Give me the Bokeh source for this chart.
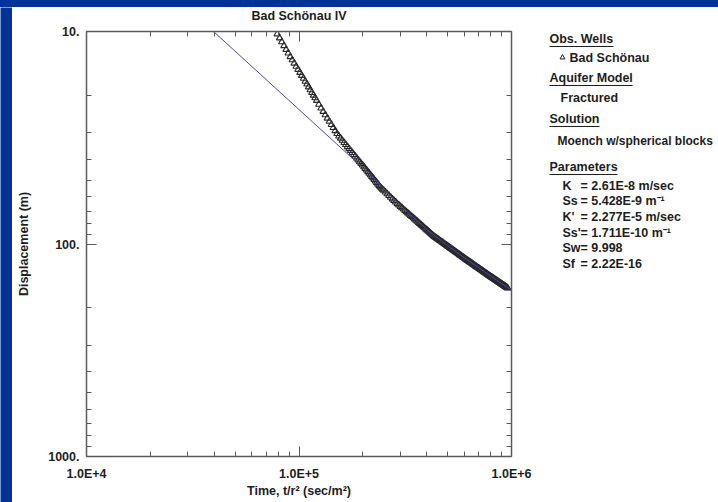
from bokeh.plotting import figure
from bokeh.models import Range1d, LogAxis, FixedTicker
from bokeh.layouts import row, column
from bokeh.embed import file_html
from bokeh.resources import INLINE
from bokeh.core.properties import value

# ---------------- data ----------------
title_text = "Bad Schönau IV"
x_label = "Time, t/r² (sec/m²)"
y_label = "Displacement (m)"

x_ticks = [1e4, 1e5, 1e6]
x_tick_labels = ["1.0E+4", "1.0E+5", "1.0E+6"]
x_minor = [2e4, 3e4, 4e4, 5e4, 6e4, 7e4, 8e4, 9e4,
           2e5, 3e5, 4e5, 5e5, 6e5, 7e5, 8e5, 9e5]
y_ticks = [10, 100, 1000]
y_tick_labels = ["10.", "100.", "1000."]
y_minor = [20, 30, 40, 50, 60, 70, 80, 90,
           200, 300, 400, 500, 600, 700, 800, 900]

# observed data (time in thousands of sec/m^2, displacement in m)
early_time_k = [79, 81, 83, 85, 87, 89, 91, 93, 95, 97, 99, 101, 103, 105, 107, 109,
                111, 113, 115, 117, 119, 121,
                124, 127, 130, 133, 136, 139, 142, 145, 148, 151, 154, 157, 160, 163,
                166, 169, 172, 175, 178, 181, 184, 187, 190, 193, 196, 199, 202, 205,
                208, 211, 214, 217, 220, 223, 226, 229, 232, 235, 238, 241, 244, 247,
                250, 255]
early_disp = [10.27, 10.73, 11.19, 11.67, 12.15, 12.64, 13.14, 13.61, 14.10, 14.60,
              15.09, 15.60, 16.11, 16.63, 17.16, 17.69, 18.24, 18.81, 19.38, 19.95,
              20.53, 21.13,
              22.02, 22.93, 23.80, 24.69, 25.59, 26.50, 27.42, 28.35, 29.30, 30.26,
              31.05, 31.80, 32.55, 33.32, 34.08, 34.85, 35.61, 36.38, 37.16, 37.94,
              38.69, 39.46, 40.24, 41.00, 41.78, 42.55, 43.33, 44.11, 44.89, 45.70,
              46.50, 47.32, 48.12, 48.93, 49.75, 50.57, 51.40, 52.23, 53.06, 53.88,
              54.62, 55.28, 55.93, 57.01]
late_time_k = [260, 265, 270, 275, 280, 285, 290, 295, 300, 305, 310, 315, 320, 325,
               330, 335, 340, 345, 350, 355, 360, 365, 370, 375, 380, 385, 390, 395,
               400, 405, 410, 415, 420, 425, 430, 435, 440, 445, 450, 455, 460, 465,
               470, 475, 480, 485, 490, 495, 500, 505, 510, 515, 520, 525, 530, 535,
               540, 545, 550, 555, 560, 565, 570, 575, 580, 585, 590, 595, 600, 605,
               610, 615, 620, 625, 630, 635, 640, 645, 650, 655, 660, 665, 670, 675,
               680, 685, 690, 695, 700, 705, 710, 715, 720, 725, 730, 735, 740, 745,
               750, 755, 760, 765, 770, 775, 780, 785, 790, 795, 800, 805, 810, 815,
               820, 825, 830, 835, 840, 845, 850, 855, 860, 865, 870, 875, 880, 885,
               890, 895, 900, 905, 910, 915, 920, 925, 930, 935, 940, 945, 950, 955, 960]
late_disp = [58.10, 59.20, 60.29, 61.38, 62.46, 63.54, 64.62, 65.61, 66.60, 67.58,
             68.56, 69.53, 70.50, 71.47, 72.44, 73.41, 74.37, 75.34, 76.30, 77.27,
             78.24, 79.21, 80.17, 81.14, 82.10, 83.06, 84.01, 84.97, 85.92, 86.88,
             87.84, 88.79, 89.74, 90.71, 91.68, 92.45, 93.22, 93.99, 94.75, 95.50,
             96.25, 97.01, 97.77, 98.51, 99.25, 100.00, 100.74, 101.48, 102.21, 102.95,
             103.68, 104.42, 105.15, 105.87, 106.59, 107.32, 108.05, 108.76, 109.46, 110.17,
             110.88, 111.60, 112.32, 113.03, 113.73, 114.44, 115.15, 115.85, 116.54, 117.24,
             117.94, 118.64, 119.34, 119.98, 120.61, 121.28, 121.95, 122.62, 123.28, 123.95,
             124.62, 125.27, 125.92, 126.59, 127.26, 127.91, 128.56, 129.22, 129.87, 130.52,
             131.16, 131.80, 132.43, 133.08, 133.72, 134.37, 135.02, 135.65, 136.27, 136.92,
             137.56, 138.25, 138.93, 139.53, 140.12, 140.72, 141.32, 141.93, 142.53, 143.14,
             143.75, 144.35, 144.95, 145.55, 146.15, 146.76, 147.37, 147.95, 148.53, 149.13,
             149.73, 150.32, 150.90, 151.50, 152.09, 152.67, 153.25, 153.84, 154.42, 155.01,
             155.60, 156.18, 156.75, 157.33, 157.91, 158.50, 159.08, 159.65, 160.22, 160.80,
             161.37]
obs_time = [t * 1000 for t in early_time_k + late_time_k]
obs_disp = early_disp + late_disp

# fitted Moench curve
fit_time = [39600, 60000, 100000, 150000, 200000, 230000, 270000, 320000,
            400000, 500000, 600000, 700000, 800000, 900000, 980000]
fit_disp = [10.0, 14.61, 23.30, 33.74, 43.86, 50.0, 59.6, 70.0,
            85.5, 101.8, 116.0, 129.3, 141.8, 153.6, 162.6]

# side panel texts
headers = ["Obs. Wells", "Aquifer Model", "Solution", "Parameters"]
well_name = "Bad Schönau"
aquifer_model = "Fractured"
solution_name = "Moench w/spherical blocks"
param_names = ["K", "Ss", "K'", "Ss'", "Sw", "Sf"]
param_values = ["= 2.61E-8 m/sec", "= 5.428E-9 m⁻¹", "= 2.277E-5 m/sec",
                "= 1.711E-10 m⁻¹", "= 9.998", "= 2.22E-16"]

# ---------------- style ----------------
FONT = "Liberation Sans"
TXT = "#1e1e1e"
AXC = "#5a5a5a"
FS = "12.5px"
BLUE = "#003399"
PW = 530          # width of the plot column (global x 12 .. 542)
SW = 718 - 12 - PW


def panel(w, h, color):
    f = figure(width=w, height=h, output_backend="svg", toolbar_location=None,
               x_axis_location=None, y_axis_location=None, min_border=0,
               x_range=Range1d(0, w), y_range=Range1d(h, 0))
    f.frame_align = False
    f.grid.visible = False
    f.outline_line_color = None
    f.background_fill_color = color
    f.border_fill_color = color
    return f


# title panel (global origin 12, 7)
tp = panel(PW, 18, "white")
tp.text(x=[298.5 - 12], y=[15 - 7], text=[title_text], text_font=value(FONT),
        text_font_size=FS, text_font_style="bold", text_color=TXT,
        text_baseline="middle", text_align="center")

p = figure(width=PW, height=477, x_axis_type="log", y_axis_type="log",
           x_range=Range1d(1e4, 1e6), y_range=Range1d(1000, 10),
           output_backend="svg", toolbar_location=None,
           min_border_left=74, min_border_right=PW + 12 - 511, min_border_top=6,
           min_border_bottom=46)
p.frame_align = False
p.background_fill_color = "white"
p.border_fill_color = "white"
p.outline_line_color = AXC
p.grid.visible = False


def style_axis(ax, ticks, minor, labels, show):
    ax.ticker = FixedTicker(ticks=ticks, minor_ticks=minor)
    ax.axis_line_color = AXC
    ax.axis_line_width = 1.5
    ax.major_tick_line_color = AXC
    ax.minor_tick_line_color = AXC
    ax.major_tick_in = 10
    ax.major_tick_out = 0
    ax.minor_tick_in = 5
    ax.minor_tick_out = 0
    ax.major_label_text_font = FONT
    ax.major_label_text_font_style = "bold"
    ax.major_label_text_color = TXT
    ax.axis_label_text_font = FONT
    ax.axis_label_text_font_style = "bold"
    ax.axis_label_text_font_size = FS
    ax.axis_label_text_color = TXT
    if show:
        ax.major_label_text_font_size = FS
        ax.major_label_overrides = {t: l for t, l in zip(ticks, labels)}
    else:
        ax.major_label_text_font_size = "1px"
        ax.major_label_standoff = 0
        ax.major_label_overrides = {t: "" for t in ticks}


xa = p.xaxis[0]
style_axis(xa, x_ticks, x_minor, x_tick_labels, True)
xa.axis_label = x_label
xa.major_label_standoff = 10
xa.axis_label_standoff = 0

ya = p.yaxis[0]
style_axis(ya, y_ticks, y_minor, y_tick_labels, True)
ya.axis_label = y_label
ya.major_label_standoff = 7
ya.axis_label_standoff = 14

top_ax = LogAxis()
style_axis(top_ax, x_ticks, x_minor, x_tick_labels, False)
p.add_layout(top_ax, "above")
right_ax = LogAxis()
style_axis(right_ax, y_ticks, y_minor, y_tick_labels, False)
p.add_layout(right_ax, "right")

p.scatter(obs_time, obs_disp, marker="triangle", size=6.5, fill_color=None,
          line_color="#2a2a2a", line_width=1.1)
p.line(fit_time, fit_disp, line_color="#4848b0", line_width=1)

# ---------------- side panel (global origin 542, 7) ----------------
OX, OY = 12 + PW, 7
q = panel(SW, 495, "white")

head_x = 549 - OX
head_y = [38 - OY, 77 - OY, 118 - OY, 166 - OY]
head_w = [64, 83, 50, 68]
q.text(x=[head_x] * 4, y=head_y, text=headers, text_font=value(FONT),
       text_font_size=FS, text_font_style="bold", text_color=TXT,
       text_baseline="middle", text_align="left")
q.segment(x0=[head_x] * 4, y0=[y + 8 for y in head_y],
          x1=[head_x + w for w in head_w], y1=[y + 8 for y in head_y],
          line_color=TXT, line_width=1)

q.scatter(x=[562 - OX], y=[57 - OY], marker="triangle", size=5, fill_color=None,
          line_color=TXT, line_width=1)
q.text(x=[569 - OX, 560 - OX], y=[57 - OY, 97 - OY],
       text=[well_name, aquifer_model], text_font=value(FONT),
       text_font_size=FS, text_font_style="bold", text_color=TXT,
       text_baseline="middle", text_align="left")
q.text(x=[557 - OX], y=[140 - OY], text=[solution_name], text_font=value(FONT),
       text_font_size="12px", text_font_style="bold", text_color=TXT,
       text_baseline="middle", text_align="left")

py = [185 - OY, 200.5 - OY, 216 - OY, 232 - OY, 247.5 - OY, 263 - OY]
q.text(x=[562 - OX] * 6, y=py, text=param_names, text_font=value(FONT),
       text_font_size=FS, text_font_style="bold", text_color=TXT,
       text_baseline="middle", text_align="left")
q.text(x=[580 - OX] * 6, y=py, text=param_values, text_font=value(FONT),
       text_font_size=FS, text_font_style="bold", text_color=TXT,
       text_baseline="middle", text_align="left")

top_strip = panel(718, 7, BLUE)
left_strip = panel(12, 495, BLUE)

body = row(left_strip, column(tp, p, spacing=0, styles={"background-color": "white"}),
           q, spacing=0, styles={"background-color": "white"})
layout = column(top_strip, body, spacing=0, styles={"background-color": BLUE})
open("out.html", "w").write(file_html(layout, INLINE))
